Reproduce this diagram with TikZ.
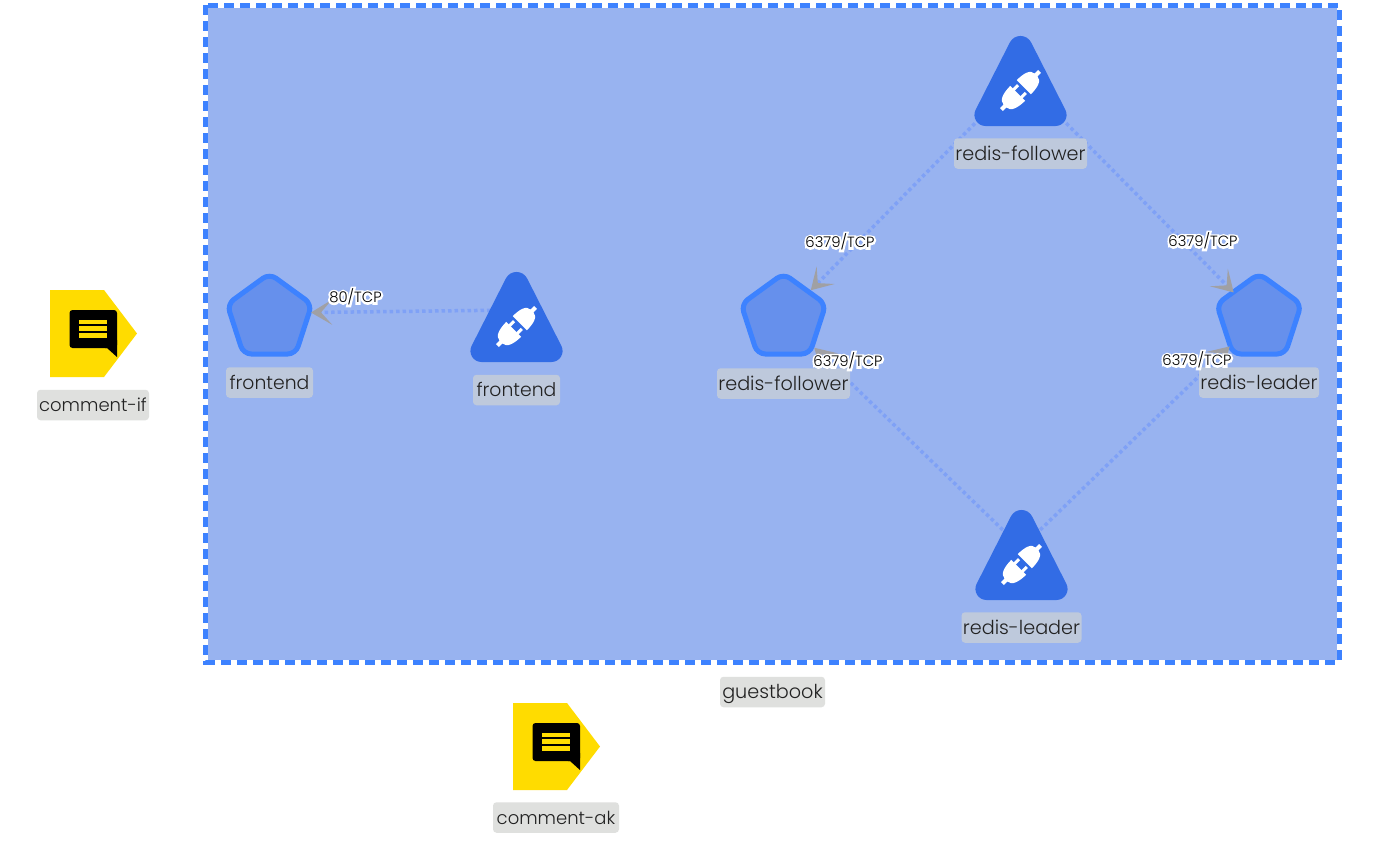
\documentclass[tikz,border=0pt]{standalone}
\usepackage{fontspec}
\setmainfont{Poppins Light}
\newfontfamily\halofont[FakeBold=28]{Poppins Light}
\usetikzlibrary{arrows.meta,shapes.geometric}
\newsavebox{\portbox}
\newcommand{\porttext}[1]{\sbox{\portbox}{#1}\makebox[\wd\portbox][c]{\makebox[0pt][c]{\color{white}\halofont #1}}\hspace{-\wd\portbox}\usebox{\portbox}}
\definecolor{zonefill}{HTML}{98B3F0}
\definecolor{zoneline}{HTML}{3D82FF}
\definecolor{podfill}{HTML}{6690EC}
\definecolor{svcfill}{HTML}{326CE5}
\definecolor{edgeline}{HTML}{7FA1F6}
\definecolor{tipgray}{HTML}{A0A0A4}
\definecolor{labin}{HTML}{BEC9DC}
\definecolor{labout}{HTML}{DFE0DE}
\definecolor{inktext}{HTML}{222222}
\definecolor{notefill}{HTML}{FFDC00}
\tikzset{
  podshape/.style={regular polygon,regular polygon sides=5,minimum size=89pt,inner sep=0pt,
    draw=zoneline,fill=podfill,line width=5pt,rounded corners=8pt},
  labbox/.style={rounded corners=3.5pt,inner sep=0pt,minimum height=30.5pt,text=inktext,
    text height=13.5pt,text depth=0.5pt,font=\fontsize{19.2}{20}\selectfont},
  inlab/.style={labbox,fill=labin},
  outlab/.style={labbox,fill=labout},
  link/.style={edgeline,line width=3.5pt,dash pattern=on 3.5pt off 3pt,
    -{Stealth[length=21pt,width=25pt,inset=11pt,color=tipgray]}},
  portlab/.style={inner sep=0pt,text=black,font=\fontsize{14.8}{16}\selectfont},
  pics/svcicon/.style={code={
    \coordinate (-c) at (0,40);
    \fill[svcfill] (-10.7,6.6) .. controls (-6.3,-2.25) and (6.3,-2.25) .. (10.7,6.6)
      -- (45,74.08) .. controls (48.5,81.4) and (43.2,90) .. (35,90)
      -- (-35,90) .. controls (-43.2,90) and (-48.5,81.4) .. (-45,74.08) -- cycle;
    \begin{scope}[shift={(0,54.5)},rotate=45]
      \fill[white] (4.7,-10) -- (4.7,10) .. controls (14,10) and (22,8) .. (22,2) -- (27,2) -- (27,-2) -- (22,-2) .. controls (22,-8) and (14,-10) .. (4.7,-10) -- cycle;
      \fill[white] (-4,-10.5) -- (-4,10.5) .. controls (-14,10.5) and (-22,8) .. (-22,2) -- (-27,2) -- (-27,-2) -- (-22,-2) .. controls (-22,-8) and (-14,-10.5) .. (-4,-10.5) -- cycle;
      \fill[white] (-5,-7) rectangle (2,-4);
      \fill[white] (-5,4) rectangle (2,7);
    \end{scope}}},
  pics/noteicon/.style={code={
    \fill[notefill] (0,0) -- (54,0) -- (87,43.5) -- (54,87) -- (0,87) -- cycle;
    \fill[black,rounded corners=3pt] (19.5,20) -- (67,20) -- (67,40) -- (67,58) -- (19.5,58) -- cycle;
    \fill[black] (55,50) -- (67,50) -- (67,67) -- (57,58) -- (55,58) -- cycle;
    \fill[notefill] (29,29.5) rectangle (57,33.5);
    \fill[notefill] (29,36) rectangle (57,40.5);
    \fill[notefill] (29,43) rectangle (57,48);
  }}
}
\begin{document}
\begin{tikzpicture}[x=1pt,y=-1pt]
\useasboundingbox (0,0) rectangle (1374,841);
\fill[white] (0,0) rectangle (1374,841);
% zone
\fill[zonefill] (205.5,5.3) rectangle (1339,662);
\draw[white,line width=5pt] (205.5,5.3) rectangle (1339,662);
\draw[zoneline,line width=5pt,dash pattern=on 10pt off 6pt] (205.5,5.3) rectangle (1339,662);
% pods
\node[podshape] (podfront) at (269.5,318) {};
\node[podshape] (podfollow) at (783.5,318) {};
\node[podshape] (podlead) at (1259,318) {};
% anchors of services (drawn after connectors)
\coordinate (frontc) at (516.5,310);
\coordinate (followc) at (1020.5,77);
\coordinate (leadc) at (1021.5,548);
\coordinate (podfronttip) at (311,312.5);
% connectors
\draw[link] (frontc) -- (podfronttip);
\draw[link] (followc) -- (podfollow);
\draw[link,shorten >=-3pt] (followc) -- (podlead);
\draw[link] (leadc) -- (podfollow);
\draw[link,shorten >=-2pt] (leadc) -- (podlead);
% services
\pic (svcfront) at (516.5,272) {svcicon};
\pic (svcfollow) at (1020.5,36) {svcicon};
\pic (svclead) at (1021.5,510) {svcicon};
% notes
\pic (note1) at (50,290) {noteicon};
\pic (note2) at (513,703) {noteicon};
% labels
\node[inlab,minimum width=87pt,font=\fontsize{18.8}{20}\selectfont] (lfront1) at (269.5,382.5) {frontend};
\node[inlab,minimum width=87pt,font=\fontsize{18.8}{20}\selectfont] (lfront2) at (516.5,390) {frontend};
\node[inlab,minimum width=133pt] (lfollow1) at (1020.5,153.5) {redis-follower};
\node[inlab,minimum width=133pt] (lfollow2) at (783.5,383.5) {redis-follower};
\node[inlab,minimum width=120pt] (llead1) at (1259,382.5) {redis-leader};
\node[inlab,minimum width=120pt] (llead2) at (1021.5,627.5) {redis-leader};
\node[outlab,minimum width=105pt] (lzone) at (772.5,692) {guestbook};
\node[outlab,minimum width=112pt,font=\fontsize{18}{20}\selectfont] (lnote1) at (93,405) {comment-if};
\node[outlab,minimum width=126pt,font=\fontsize{18}{20}\selectfont] (lnote2) at (556,817.5) {comment-ak};
% port labels
\node[portlab] (port1) at (355.5,297) {\porttext{80/TCP}};
\node[portlab] (port2) at (840,242) {\porttext{6379/TCP}};
\node[portlab] (port3) at (1203,241) {\porttext{6379/TCP}};
\node[portlab] (port4) at (848,361) {\porttext{6379/TCP}};
\node[portlab] (port5) at (1197,360) {\porttext{6379/TCP}};
\end{tikzpicture}
\end{document}
